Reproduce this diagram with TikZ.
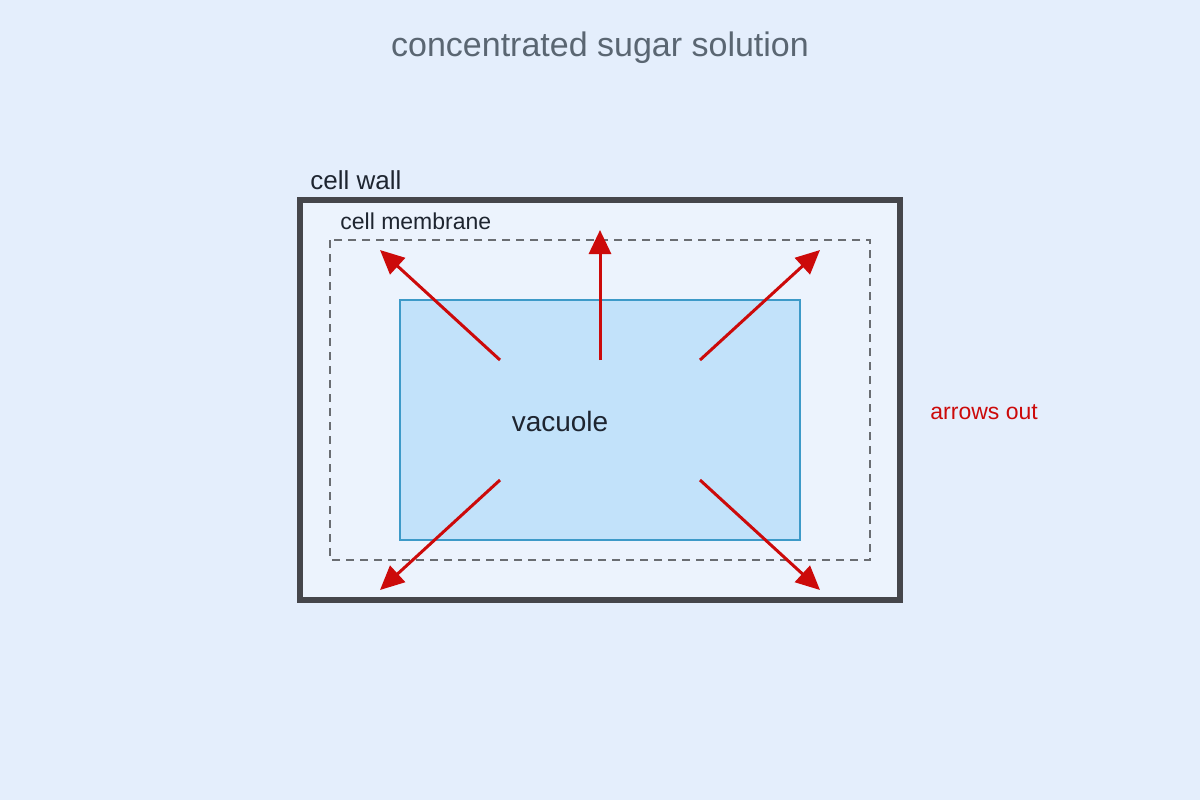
\documentclass[tikz,border=0pt]{standalone}
\usepackage{fontspec}
\setmainfont{Liberation Sans}
\usetikzlibrary{positioning, arrows.meta}
\definecolor{bgblue}{HTML}{E4EEFC}
\definecolor{wallgray}{HTML}{45464B}
\definecolor{memgray}{HTML}{6A6D72}
\definecolor{vacfill}{HTML}{C2E2FA}
\definecolor{vacline}{HTML}{3D9AC8}
\definecolor{flowred}{HTML}{CC0A0A}
\definecolor{titlegray}{HTML}{5A6672}
\definecolor{textdark}{HTML}{1E2530}
\tikzset{
  flow/.style={draw=flowred, line width=1.5pt, -{Triangle[length=12pt,width=11pt]}},
  lbl/.style={text=textdark, inner sep=0pt}
}
\begin{document}
\begin{tikzpicture}[x=0.5pt, y=-0.5pt]
% Background
\fill[bgblue] (0,0) rectangle (1200,800);
\useasboundingbox (0,0) rectangle (1200,800);

% Title
\node[text=titlegray, font=\fontsize{17}{20}\selectfont] (title) at (600,48) {concentrated sugar solution};

% Cell wall and membrane
\draw[wallgray, line width=2.6pt, fill=bgblue!70!white] (300,200) rectangle (900,600);
\node[lbl, font=\fontsize{13}{15}\selectfont, anchor=base west] (wall) at (310,189) {cell wall};
\draw[memgray, line width=1.3pt, dash pattern=on 4pt off 3pt] (330,240) rectangle (870,560);
\node[lbl, font=\fontsize{11.5}{14}\selectfont, anchor=base west] (membrane) at (340,229) {cell membrane};

% Vacuole
\draw[vacline, line width=0.8pt, fill=vacfill] (400,300) rectangle (800,540);
\node[lbl, font=\fontsize{14}{16}\selectfont] (vacuole) at (560,421) {vacuole};

% Water leaving
\foreach \name/\sx/\sy/\ex/\ey in {ul/500/360/380/250, up/600/360/600/230, ur/700/360/820/250,
                                   dl/500/480/380/590, dr/700/480/820/590}{
  \coordinate (\name-s) at (\sx,\sy);
  \coordinate (\name-e) at (\ex,\ey);
  \draw[flow] (\name-s) -- (\name-e);
}
\node[text=flowred, font=\fontsize{11.5}{14}\selectfont, anchor=west, inner sep=0pt] (out) at (930,412) {arrows out};
\end{tikzpicture}
\end{document}
